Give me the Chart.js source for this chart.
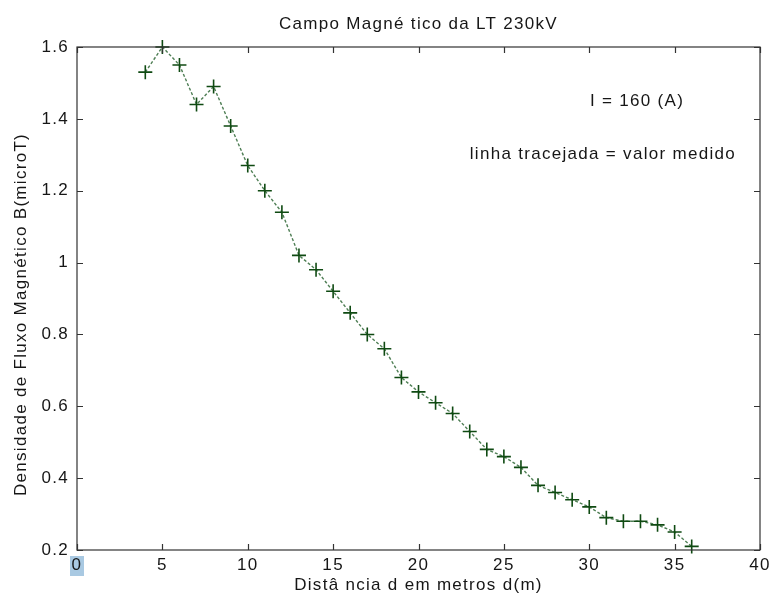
<!DOCTYPE html>
<html>
<head>
<meta charset="utf-8">
<script src="https://cdn.jsdelivr.net/npm/chart.js@4/dist/chart.umd.min.js"></script>
<style>
  html, body { margin: 0; padding: 0; background: #fff; }
  #wrap { width: 770px; height: 599px; }
</style>
</head>
<body>
<div id="wrap"><canvas id="campo"></canvas></div>
<script>
"use strict";
// distancia (m) e densidade de fluxo medida (microT)
const distancias = [4, 5, 6, 7, 8, 9, 10, 11, 12, 13, 14, 15, 16, 17, 18, 19, 20,
  21, 22, 23, 24, 25, 26, 27, 28, 29, 30, 31, 32, 33, 34, 35, 36];
const medido = [1.53, 1.60, 1.55, 1.44, 1.49, 1.38, 1.27, 1.20, 1.14, 1.02, 0.98, 0.92,
  0.86, 0.80, 0.76, 0.68, 0.64, 0.61, 0.58, 0.53, 0.48, 0.46, 0.43, 0.38, 0.36,
  0.34, 0.32, 0.29, 0.28, 0.28, 0.27, 0.25, 0.21];
const xTicks = [0, 5, 10, 15, 20, 25, 30, 35, 40];
const yTicks = [0.2, 0.4, 0.6, 0.8, 1.0, 1.2, 1.4, 1.6];
const titulo = 'Campo Magné tico da LT 230kV';
const tituloY = 'Densidade de Fluxo Magnético B(microT)';
const notas = [
  { text: 'I = 160 (A)', x: 32.8, y: 1.45 },
  { text: 'linha tracejada = valor medido', x: 30.8, y: 1.30 }
];

const FONT = 'Liberation Sans, Arial, sans-serif';
const TXT = '#161616';
const ESPACO = '1.3px';

// espacamento entre letras (o canvas perde o estado quando redimensiona)
const espaco = {
  id: 'espaco',
  beforeLayout(chart) { chart.ctx.letterSpacing = ESPACO; },
  beforeDraw(chart) { chart.ctx.letterSpacing = ESPACO; }
};

// caixa, marcas para dentro nos quatro lados e textos (estilo matlab)
const caixa = {
  id: 'caixa',
  beforeDraw(chart) {
    const x = chart.scales.x;
    const ctx = chart.ctx;
    // realce azul no "0" do eixo x
    const px = x.getPixelForValue(0);
    ctx.save();
    ctx.fillStyle = '#a9c9e2';
    ctx.fillRect(px - 7, chart.chartArea.bottom + 6, 14, 20);
    ctx.restore();
  },
  afterDatasetsDraw(chart) {
    const { ctx, chartArea: a, scales } = chart;
    const len = 6;
    ctx.save();
    ctx.strokeStyle = '#333';
    ctx.lineWidth = 1.2;
    ctx.strokeRect(a.left, a.top, a.right - a.left, a.bottom - a.top);
    ctx.beginPath();
    xTicks.forEach(v => {
      const p = Math.round(scales.x.getPixelForValue(v)) + 0.5;
      ctx.moveTo(p, a.bottom); ctx.lineTo(p, a.bottom - len);
      ctx.moveTo(p, a.top); ctx.lineTo(p, a.top + len);
    });
    yTicks.forEach(v => {
      const p = Math.round(scales.y.getPixelForValue(v)) + 0.5;
      ctx.moveTo(a.left, p); ctx.lineTo(a.left + len, p);
      ctx.moveTo(a.right, p); ctx.lineTo(a.right - len, p);
    });
    ctx.stroke();

    ctx.fillStyle = TXT;
    ctx.font = '17px ' + FONT;
    ctx.textAlign = 'center';
    ctx.textBaseline = 'middle';
    notas.forEach(n => {
      ctx.fillText(n.text, scales.x.getPixelForValue(n.x), scales.y.getPixelForValue(n.y));
    });
    ctx.fillText(titulo, (a.left + a.right) / 2, 24);
    ctx.translate(21, (a.top + a.bottom) / 2 + 16);
    ctx.rotate(-Math.PI / 2);
    ctx.fillText(tituloY, 0, 0);
    ctx.restore();
  }
};

const ctx = document.getElementById('campo').getContext('2d');
new Chart(ctx, {
  type: 'line',
  data: {
    datasets: [{
      label: 'valor medido',
      data: distancias.map((d, i) => ({ x: d, y: medido[i] })),
      borderColor: '#4f7f55',
      borderWidth: 1.4,
      borderDash: [3, 2],
      pointStyle: 'cross',
      pointRadius: 7,
      pointBorderWidth: 1.6,
      pointBorderColor: '#0f4a12',
      pointBackgroundColor: '#0f4a12',
      tension: 0,
      clip: false
    }]
  },
  options: {
    responsive: true,
    maintainAspectRatio: false,
    animation: false,
    layout: { padding: { left: 0, right: 10, top: 47, bottom: 0 } },
    plugins: {
      legend: { display: false },
      tooltip: { enabled: false },
      title: { display: false }
    },
    scales: {
      x: {
        type: 'linear',
        min: 0, max: 40,
        afterBuildTicks(s) { s.ticks = xTicks.map(v => ({ value: v })); },
        afterFit(s) { s.height = 49; s.paddingLeft = 0; s.paddingRight = 0; },
        grid: { display: false, drawTicks: false },
        border: { display: false },
        ticks: { color: TXT, padding: 5, maxRotation: 0, font: { family: FONT, size: 17 } },
        title: {
          display: true,
          text: 'Distâ ncia d em metros d(m)',
          color: TXT,
          padding: { top: 2, bottom: 3 },
          font: { family: FONT, size: 17 }
        }
      },
      y: {
        type: 'linear',
        min: 0.2, max: 1.6,
        afterBuildTicks(s) { s.ticks = yTicks.map(v => ({ value: v })); },
        afterFit(s) { s.width = 77; s.paddingTop = 0; s.paddingBottom = 0; },
        grid: { display: false, drawTicks: false },
        border: { display: false },
        ticks: {
          color: TXT, padding: 8,
          font: { family: FONT, size: 17 },
          callback: v => String(Math.round(v * 10) / 10)
        }
      }
    }
  },
  plugins: [espaco, caixa]
});
</script>
</body>
</html>
